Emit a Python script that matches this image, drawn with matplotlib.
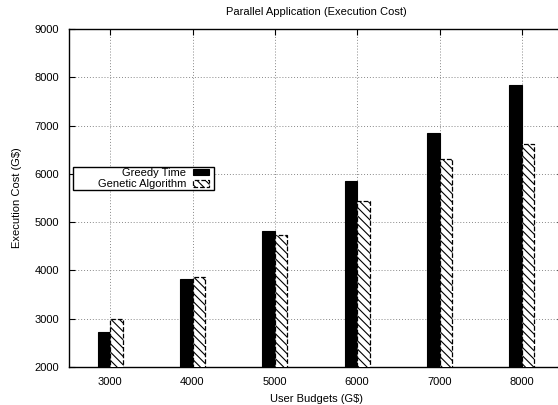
import matplotlib.pyplot as plt
from matplotlib.patches import Rectangle
import numpy as np

plt.rcParams['font.family'] = ['Liberation Sans', 'DejaVu Sans']
plt.rcParams['hatch.linewidth'] = 0.8

budgets = ['3000', '4000', '5000', '6000', '7000', '8000']
greedy_time = [2720, 3820, 4810, 5860, 6840, 7830]
genetic_algorithm = [2990, 3870, 4740, 5440, 6310, 6620]

fig = plt.figure(figsize=(5.58, 4.05), dpi=100)
# axes deliberately runs past the right edge like the original
ax = fig.add_axes([69 / 558, 1 - 367 / 405, 494 / 558, 338 / 405])

x = np.arange(len(budgets))
w = 0.152
ax.bar(x - w / 2, greedy_time, width=w, color='black', edgecolor='black',
       linewidth=0.8, label='Greedy Time', zorder=3)
ax.bar(x + w / 2, genetic_algorithm, width=w, color='white', edgecolor='black',
       linewidth=0.9, linestyle='--', hatch='\\\\\\\\', label='Genetic Algorithm',
       zorder=3)

ax.set_xlim(-0.5, len(budgets) - 0.5)
ax.set_ylim(2000, 9000)
ax.set_xticks(x)
ax.set_xticklabels(budgets)
ax.set_yticks(np.arange(2000, 9001, 1000))

ax.tick_params(direction='in', length=4, width=0.8, labelsize=8, top=True,
               right=True, pad=7)
ax.grid(True, linestyle=(0, (1, 2)), color='#888888', linewidth=0.7, zorder=0)
for s in ax.spines.values():
    s.set_linewidth(1.0)

ax.set_title('Parallel Application (Execution Cost)', fontsize=8, pad=10)
ax.set_xlabel('User Budgets (G$)', fontsize=8, labelpad=5)
ax.set_ylabel('Execution Cost (G$)', fontsize=8, labelpad=9)

# gnuplot-style key: wide white box, labels right-aligned before the samples
key = Rectangle((4 / 494, 177 / 338), 141 / 494, 23 / 338, transform=ax.transAxes,
                facecolor='white', edgecolor='black', linewidth=1.0, zorder=4)
ax.add_patch(key)
leg = ax.legend(loc='upper right', bbox_to_anchor=(140 / 494, 199 / 338),
                fontsize=8, markerfirst=False, frameon=False,
                handlelength=1.45, handleheight=0.55, borderpad=0,
                labelspacing=0.1, handletextpad=0.6, borderaxespad=0)
leg.set_zorder(5)

fig.savefig('out.png', dpi=100)
